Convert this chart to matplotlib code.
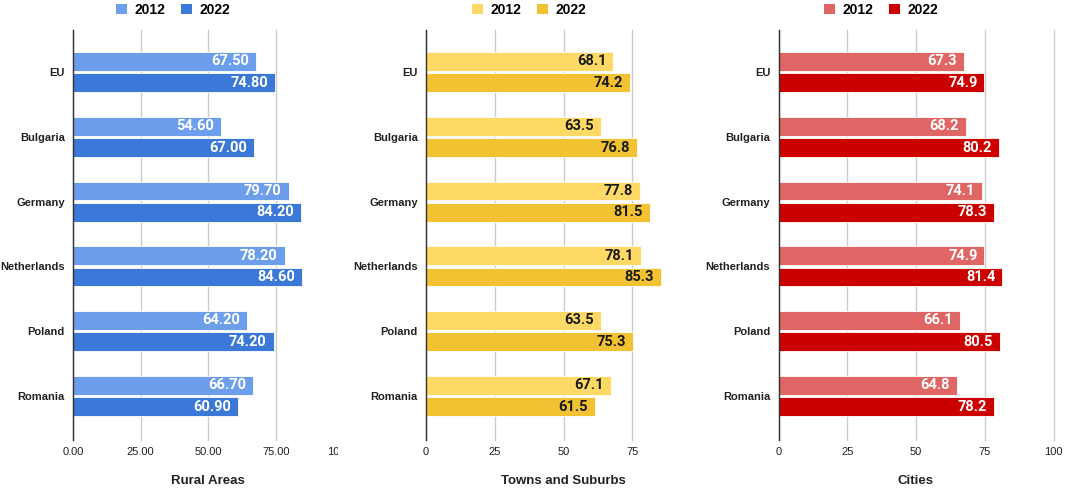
import matplotlib
matplotlib.use('Agg')
import matplotlib.pyplot as plt
from matplotlib.patches import Patch
from matplotlib.transforms import Bbox, TransformedBbox
import numpy as np

categories = ['EU', 'Bulgaria', 'Germany', 'Netherlands', 'Poland', 'Romania']
years = ['2012', '2022']

rural_2012 = [67.5, 54.6, 79.7, 78.2, 64.2, 66.7]
rural_2022 = [74.8, 67.0, 84.2, 84.6, 74.2, 60.9]
towns_2012 = [68.1, 63.5, 77.8, 78.1, 63.5, 67.1]
towns_2022 = [74.2, 76.8, 81.5, 85.3, 75.3, 61.5]
cities_2012 = [67.3, 68.2, 74.1, 74.9, 66.1, 64.8]
cities_2022 = [74.9, 80.2, 78.3, 81.4, 80.5, 78.2]

W, H = 1065, 490
fig = plt.figure(figsize=(W / 100, H / 100), dpi=100)

# (title, values 2012, values 2022, colors, label color, decimals, left px, width px, clip px, legend center px)
panels = [
    ('Rural Areas', rural_2012, rural_2022, ('#6d9eeb', '#3c78d8'), 'white', 2, 73, 270.5, 338, 173),
    ('Towns and Suburbs', towns_2012, towns_2022, ('#ffd966', '#f1c232'), '#1a1a1a', 1, 426, 275, 690, 529),
    ('Cities', cities_2012, cities_2022, ('#e06666', '#cc0000'), 'white', 1, 778.5, 275, W, 881),
]

y = np.arange(len(categories))
bar_h = 0.29
off = 0.165

for title, v12, v22, cols, lblcol, dec, left, width, clip_px, leg_x in panels:
    ax = fig.add_axes([left / W, (H - 440) / H, width / W, 410 / H])
    b1 = ax.barh(y - off, v12, height=bar_h, color=cols[0], edgecolor='white', linewidth=0.6, zorder=3)
    b2 = ax.barh(y + off, v22, height=bar_h, color=cols[1], edgecolor='white', linewidth=0.6, zorder=3)
    fmt = '{:.%df}' % dec
    for bars in (b1, b2):
        labels = [fmt.format(b.get_width()) for b in bars]
        ax.bar_label(bars, labels=labels, label_type='edge', padding=-5, color=lblcol,
                     fontsize=10.5, fontweight='bold', family='Roboto', zorder=4)
        for t in ax.texts[-len(bars):]:
            t.set_horizontalalignment('right')

    ax.set_xlim(0, 100)
    ax.set_ylim(5.68, -0.65)
    ax.set_xticks([0, 25, 50, 75, 100])
    tick_fmt = '{:.2f}' if dec == 2 else '{:.0f}'
    ax.set_xticklabels([tick_fmt.format(t) for t in [0, 25, 50, 75, 100]],
                       fontsize=8, family='Liberation Sans', color='#222222')
    ax.set_yticks(y)
    ax.set_yticklabels(categories, fontsize=8, fontweight='bold', family='Liberation Sans', color='#222222')
    ax.tick_params(axis='both', length=0)
    ax.tick_params(axis='x', pad=5)
    ax.tick_params(axis='y', pad=6)
    ax.xaxis.grid(True, color='#cccccc', linewidth=1, zorder=0)
    ax.set_axisbelow(True)
    for s in ('top', 'right', 'bottom'):
        ax.spines[s].set_visible(False)
    ax.spines['left'].set_color('#333333')
    ax.spines['left'].set_linewidth(1)
    ax.spines['left'].set_zorder(5)
    ax.set_xlabel(title, fontsize=9.5, fontweight='bold', family='Liberation Sans', labelpad=13, color='#222222')

    # the source charts are cut off on their right side
    bb = TransformedBbox(Bbox([[0, 0], [clip_px / W, 1]]), fig.transFigure)
    for tick in ax.xaxis.get_major_ticks():
        tick.label1.set_clip_box(bb)
        tick.label1.set_clip_on(True)
        tick.gridline.set_clip_box(bb)

    handles = [Patch(facecolor=cols[0]), Patch(facecolor=cols[1])]
    fig.legend(handles, years, loc='center', bbox_to_anchor=(leg_x / W, 1 - 10 / H), ncol=2,
               frameon=False, handlelength=0.8, handleheight=0.8, handletextpad=0.5,
               columnspacing=1.15, prop={'family': 'Liberation Sans', 'weight': 'bold', 'size': 10})

fig.savefig('out.png', dpi=100)
